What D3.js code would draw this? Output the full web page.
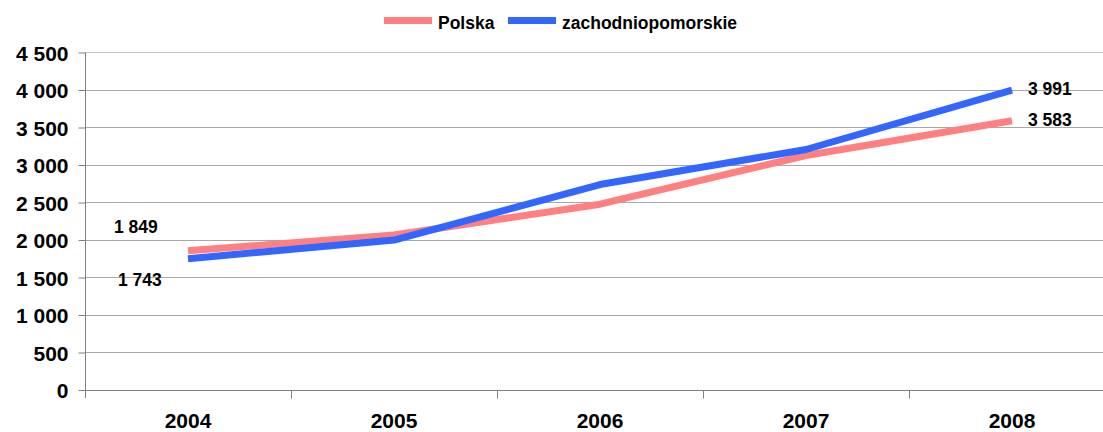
<!doctype html>
<html>
<head>
<meta charset="UTF-8">
<title>Polska / zachodniopomorskie</title>
<script src="https://d3js.org/d3.v7.min.js"></script>
<style>
  body { margin: 0; background: #fff; }
  text { font-family: "Liberation Sans", Arial, sans-serif; font-weight: bold; fill: #000; }
</style>
</head>
<body>
<script>
var years = ["2004", "2005", "2006", "2007", "2008"];
var polska = [1849, 2060, 2471, 3120, 3583];
var zachodniopomorskie = [1743, 1993, 2733, 3200, 3991];
var seriesNames = ["Polska", "zachodniopomorskie"];
var seriesColors = ["#ff8080", "#3366ff"];
var yTicks = [0, 500, 1000, 1500, 2000, 2500, 3000, 3500, 4000, 4500];

var w = 1103, h = 432;
var plotLeft = 85, plotRight = 1115, plotTop = 52, plotBottom = 389.5;

var svg = d3.select("body").append("svg")
  .attr("width", w)
  .attr("height", h);

var x = d3.scaleBand().domain(years).range([plotLeft, plotRight]);
var y = d3.scaleLinear().domain([0, 4500]).range([plotBottom, plotTop]);

var fmt = d3.formatLocale({ decimal: ",", thousands: "\u00a0", grouping: [3], currency: ["", ""] }).format(",d");

// gridlines
svg.append("g")
  .selectAll("line")
  .data(yTicks.slice(1))
  .enter().append("line")
  .attr("x1", plotLeft).attr("x2", plotRight)
  .attr("y1", function (d) { return Math.round(y(d)) + 0.5; })
  .attr("y2", function (d) { return Math.round(y(d)) + 0.5; })
  .attr("stroke", function (d) { return d == 4500 ? "#c4c4c4" : "#a8a8a8"; })
  .attr("stroke-width", 1);

// y axis
var yAxis = svg.append("g")
  .attr("transform", "translate(" + (plotLeft + 0.5) + ",0.5)")
  .call(d3.axisLeft(y).tickValues(yTicks).tickSize(7).tickPadding(10).tickFormat(fmt));
yAxis.select(".domain").attr("stroke", "#808080").attr("d", "M0," + plotTop + "V" + (plotBottom + 8));
yAxis.selectAll(".tick line").attr("stroke", "#808080");
yAxis.selectAll("text").style("font-size", "21px").attr("dy", "0.36em");

// x axis
var xAxis = svg.append("g")
  .attr("transform", "translate(0," + (Math.round(plotBottom) + 0.5) + ")");
xAxis.append("line")
  .attr("x1", plotLeft).attr("x2", plotRight)
  .attr("stroke", "#808080");
xAxis.selectAll("line.tk")
  .data(years.slice(1))
  .enter().append("line")
  .attr("class", "tk")
  .attr("x1", function (d) { return Math.round(x(d)) + 0.5; })
  .attr("x2", function (d) { return Math.round(x(d)) + 0.5; })
  .attr("y1", 0).attr("y2", 8)
  .attr("stroke", "#808080");
xAxis.selectAll("text")
  .data(years)
  .enter().append("text")
  .attr("x", function (d) { return x(d) + x.bandwidth() / 2; })
  .attr("y", 37)
  .attr("text-anchor", "middle")
  .style("font-size", "21px")
  .text(function (d) { return d; });

// lines
var line = d3.line()
  .x(function (d, i) { return x(years[i]) + x.bandwidth() / 2; })
  .y(function (d) { return y(d); });

[polska, zachodniopomorskie].forEach(function (s, k) {
  svg.append("path")
    .datum(s)
    .attr("d", line)
    .attr("fill", "none")
    .attr("stroke", seriesColors[k])
    .attr("stroke-width", 7)
    .attr("stroke-linejoin", "round");
});

// data labels (first and last points)
var labels = [
  { v: polska[0], x: x(years[0]) + x.bandwidth() / 2 - 74, y: 233 },
  { v: zachodniopomorskie[0], x: x(years[0]) + x.bandwidth() / 2 - 70, y: 286 },
  { v: zachodniopomorskie[4], x: x(years[4]) + x.bandwidth() / 2 + 16, y: 95 },
  { v: polska[4], x: x(years[4]) + x.bandwidth() / 2 + 16, y: 126 }
];
svg.selectAll("text.lbl")
  .data(labels)
  .enter().append("text")
  .attr("class", "lbl")
  .attr("x", function (d) { return d.x; })
  .attr("y", function (d) { return d.y; })
  .style("font-size", "17.5px")
  .text(function (d) { return fmt(d.v); });

// legend
var legendX = [384, 508];
var lg = svg.append("g");
seriesNames.forEach(function (n, k) {
  lg.append("line")
    .attr("x1", legendX[k]).attr("x2", legendX[k] + 48)
    .attr("y1", 20.5).attr("y2", 20.5)
    .attr("stroke", seriesColors[k])
    .attr("stroke-width", 7);
  lg.append("text")
    .attr("x", legendX[k] + 54)
    .attr("y", 29)
    .style("font-size", "17.5px")
    .text(n);
});
</script>
</body>
</html>
